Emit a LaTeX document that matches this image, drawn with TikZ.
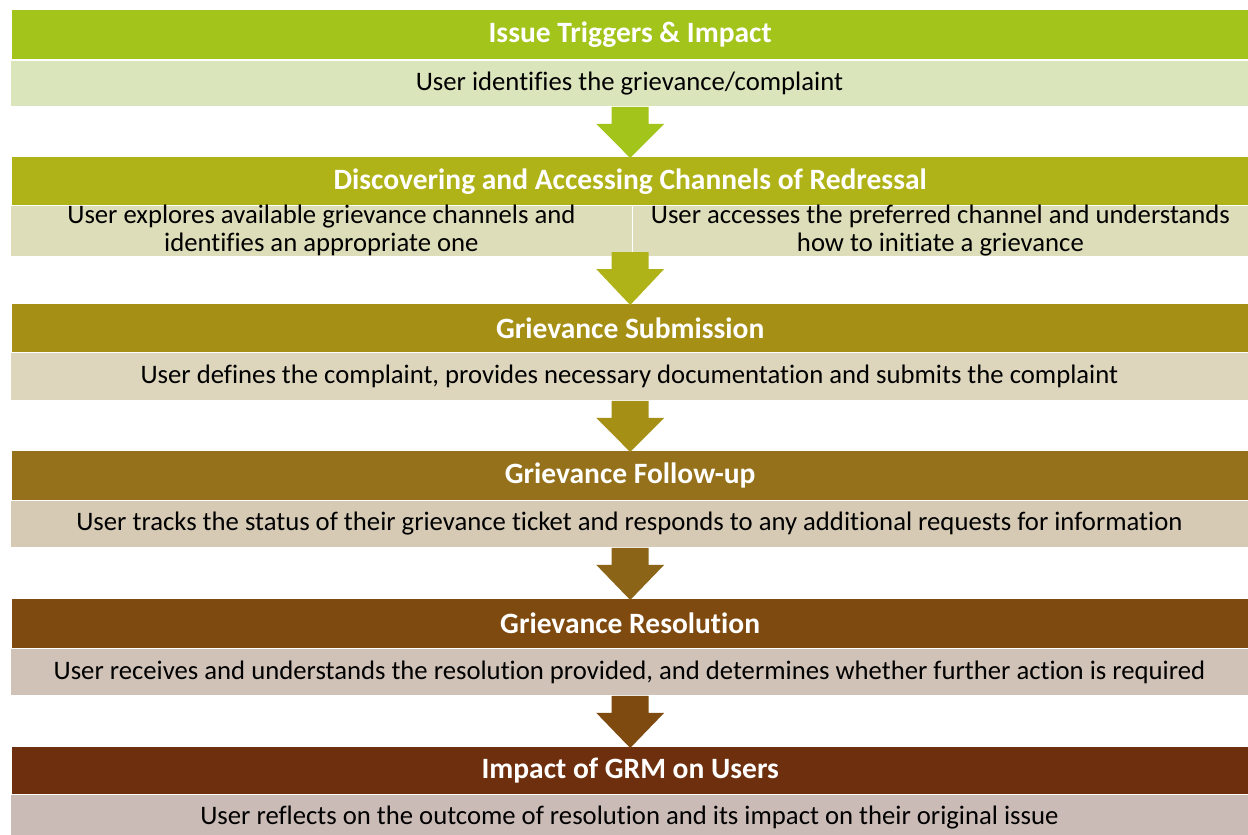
\documentclass[tikz,border=0pt]{standalone}
\usepackage{fontspec}
\setmainfont{Carlito}[Ligatures=NoCommon]
\usetikzlibrary{calc}
\definecolor{hA}{HTML}{A3C41A}\definecolor{sA}{HTML}{DAE5BC}
\definecolor{hB}{HTML}{B0B318}\definecolor{sB}{HTML}{DEDDB9}
\definecolor{hC}{HTML}{A58F15}\definecolor{sC}{HTML}{DDD6BD}
\definecolor{hD}{HTML}{94711A}\definecolor{sD}{HTML}{D6CAB5}
\definecolor{hE}{HTML}{7F4A0F}\definecolor{sE}{HTML}{D0C2B7}
\definecolor{hF}{HTML}{6E2F0E}\definecolor{sF}{HTML}{CABBB7}
\definecolor{aD}{HTML}{8C6418}
\tikzset{
  header/.style={anchor=north west, minimum width=1236pt, minimum height=49pt,
    inner sep=0pt, text=white, font=\fontsize{29.5}{32}\selectfont\bfseries},
  detail/.style={anchor=north west, minimum width=1238pt, inner sep=0pt,
    text=black, draw=white, line width=0.8pt, font=\fontsize{26.7}{28}\selectfont},
  halfdetail/.style={detail, minimum width=622pt, align=center},
}
% block arrow from the bottom of one box down to the top of the next
\newcommand\stagearrow[3]{%
  \fill[#3] ($(#1.south -| #2.north)+(-18.5pt,0)$) -- ($(#1.south -| #2.north)+(18.5pt,0)$)
    -- ($(#1.south -| #2.north)+(18.5pt,-17pt)$) -- ($(#1.south -| #2.north)+(34pt,-17pt)$)
    -- ($(#2.north)+(0,-1pt)$)
    -- ($(#1.south -| #2.north)+(-34pt,-17pt)$) -- ($(#1.south -| #2.north)+(-18.5pt,-17pt)$)
    -- cycle;}
\begin{document}
\begin{tikzpicture}[x=1pt,y=-1pt]
\useasboundingbox (0,0) rectangle (1248,835);
\fill[white] (0,0) rectangle (1248,835);
\begin{scope}
\clip (0,0) rectangle (1248,835);
% stage 1
\node[header, fill=hA] (h1) at (12,10) {Issue Triggers \& Impact};
\node[detail, fill=sA, minimum height=46pt] (s1) at (10,60) {User identifies the grievance/complaint};
% stage 2
\node[header, fill=hB, minimum height=48pt] (h2) at (12,157) {Discovering and Accessing Channels of Redressal};
\node[halfdetail, fill=sB, minimum height=47pt] (s2a) at (10,205)
  {User explores available grievance channels and\\identifies an appropriate one};
\node[halfdetail, fill=sB, minimum height=47pt, minimum width=616pt] (s2b) at (632,205)
  {User accesses the preferred channel and understands\\how to initiate a grievance};
\coordinate (s2) at (632,252);
% stage 3
\node[header, fill=hC, minimum height=48pt] (h3) at (12,304) {Grievance Submission};
\node[detail, fill=sC, minimum height=48pt] (s3) at (10,352) {User defines the complaint, provides necessary documentation and submits the complaint};
% stage 4
\node[header, fill=hD] (h4) at (12,451) {Grievance Follow-up};
\node[detail, fill=sD, minimum height=47pt] (s4) at (10,500) {User tracks the status of their grievance ticket and responds to any additional requests for information};
% stage 5
\node[header, fill=hE] (h5) at (12,599) {Grievance Resolution};
\node[detail, fill=sE, minimum height=47pt] (s5) at (10,648) {User receives and understands the resolution provided, and determines whether further action is required};
% stage 6
\node[header, fill=hF, minimum height=47pt] (h6) at (12,747) {Impact of GRM on Users};
\node[detail, fill=sF, minimum height=47pt] (s6) at (10,794) {User reflects on the outcome of resolution and its impact on their original issue};
\end{scope}
% arrows between stages
\stagearrow{s1}{h2}{hA}
\stagearrow{s2}{h3}{hB}
\stagearrow{s3}{h4}{hC}
\stagearrow{s4}{h5}{aD}
\stagearrow{s5}{h6}{hE}
\end{tikzpicture}
\end{document}
